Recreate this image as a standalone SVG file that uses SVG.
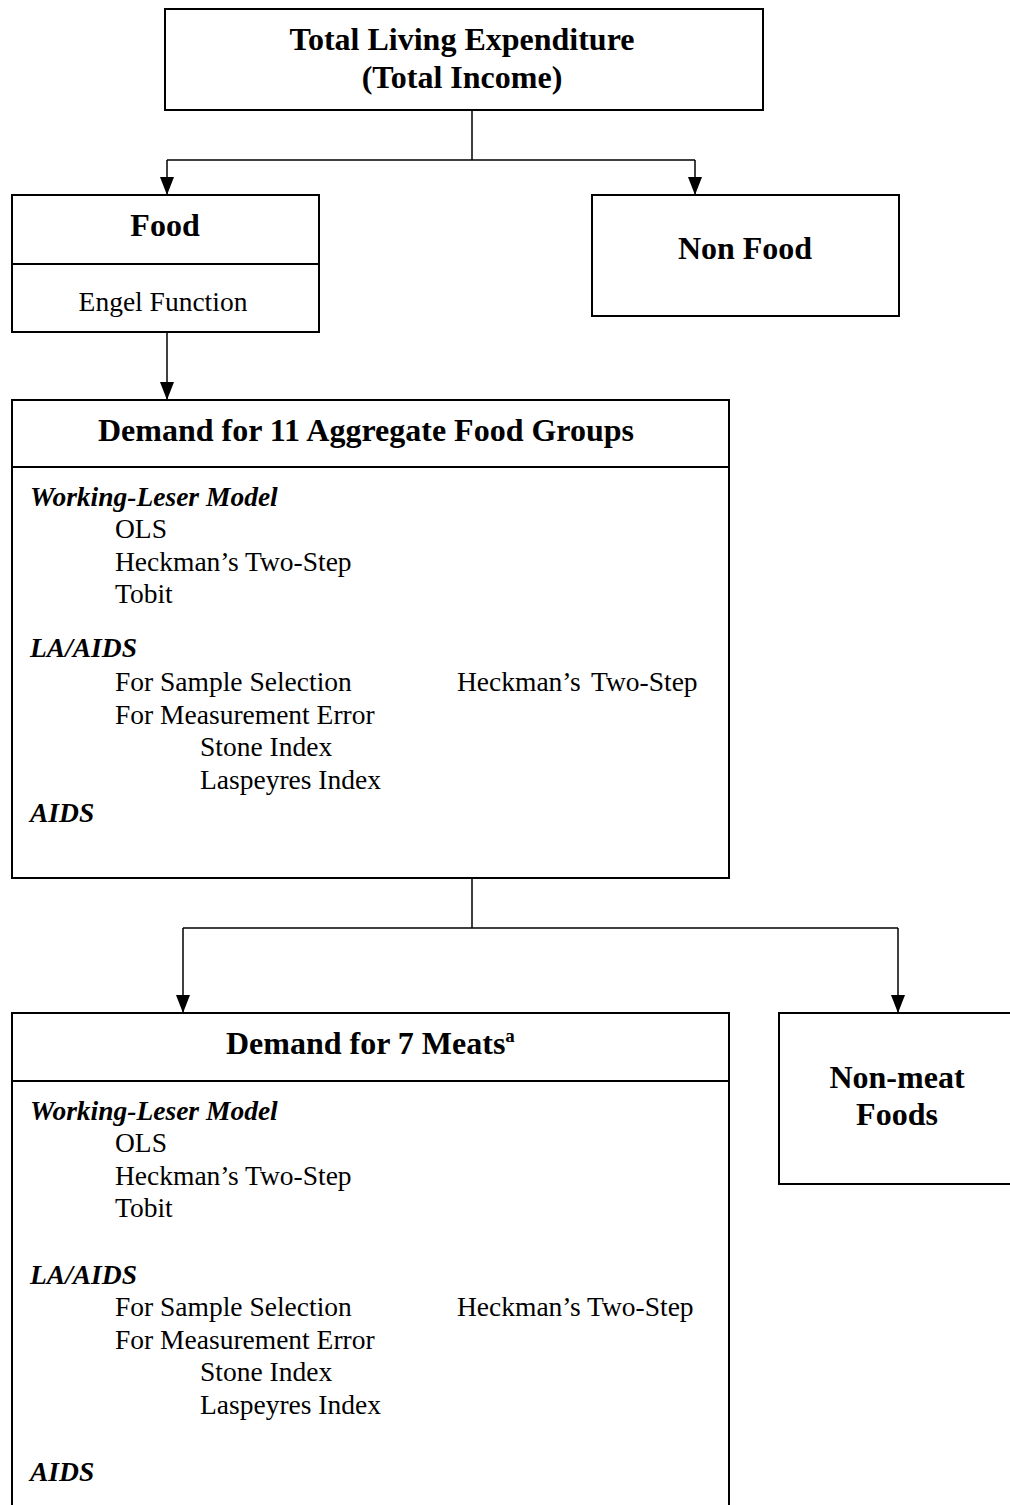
<svg xmlns="http://www.w3.org/2000/svg" width="1010" height="1505" viewBox="0 0 1010 1505">
<style>
.box{fill:#fff;stroke:#000;stroke-width:2}
.div{stroke:#000;stroke-width:2}
.con{fill:none;stroke:#000;stroke-width:1.5}
.t{font-family:"Liberation Serif","Times New Roman",serif;fill:#000}
.b{font-weight:bold;font-size:32px}
.r{font-size:27.5px}
.bi{font-weight:bold;font-style:italic;font-size:27.5px}
.c{text-anchor:middle}
</style>
<defs>
<marker id="ah" viewBox="0 0 18 14" refX="18" refY="7" markerWidth="18" markerHeight="14" markerUnits="userSpaceOnUse" orient="auto">
<path d="M0,0 L18,7 L0,14 Z" fill="#000"/>
</marker>
</defs>
<rect width="1010" height="1505" fill="#fff"/>
<g id="connectors">
<path class="con" d="M472,110 V160 M167,160 H695"/>
<path class="con" d="M167,160 V195" marker-end="url(#ah)"/>
<path class="con" d="M695,160 V195" marker-end="url(#ah)"/>
<path class="con" d="M167,332 V400" marker-end="url(#ah)"/>
<path class="con" d="M472,878 V928 M183,928 H898"/>
<path class="con" d="M183,928 V1013" marker-end="url(#ah)"/>
<path class="con" d="M898,928 V1013" marker-end="url(#ah)"/>
</g>
<g id="total">
<rect class="box" x="165" y="9" width="598" height="101"/>
<text class="t b c" x="462" y="50">Total Living Expenditure</text>
<text class="t b c" x="462" y="88">(Total Income)</text>
</g>
<g id="food">
<rect class="box" x="12" y="195" width="307" height="137"/>
<line class="div" x1="12" y1="264" x2="319" y2="264"/>
<text class="t b c" x="165" y="236">Food</text>
<text class="t r c" x="163" y="311">Engel Function</text>
</g>
<g id="nonfood">
<rect class="box" x="592" y="195" width="307" height="121"/>
<text class="t b c" x="745" y="259">Non Food</text>
</g>
<g id="aggregate">
<rect class="box" x="12" y="400" width="717" height="478"/>
<line class="div" x1="12" y1="467" x2="729" y2="467"/>
<text class="t b c" x="366" y="441">Demand for 11 Aggregate Food Groups</text>
<text class="t bi" x="30" y="506">Working-Leser Model</text>
<text class="t r" x="115" y="538">OLS</text>
<text class="t r" x="115" y="571">Heckman’s Two-Step</text>
<text class="t r" x="115" y="603">Tobit</text>
<text class="t bi" x="30" y="657">LA/AIDS</text>
<text class="t r" x="115" y="691">For Sample Selection</text>
<text class="t r" x="457" y="691" word-spacing="4">Heckman’s Two-Step</text>
<text class="t r" x="115" y="724">For Measurement Error</text>
<text class="t r" x="200" y="756">Stone Index</text>
<text class="t r" x="200" y="789">Laspeyres Index</text>
<text class="t bi" x="30" y="822">AIDS</text>
</g>
<g id="meats">
<rect class="box" x="12" y="1013" width="717" height="500"/>
<line class="div" x1="12" y1="1081" x2="729" y2="1081"/>
<text class="t b" x="226" y="1054">Demand for 7 Meats<tspan font-size="19" dy="-12">a</tspan></text>
<text class="t bi" x="30" y="1120">Working-Leser Model</text>
<text class="t r" x="115" y="1152">OLS</text>
<text class="t r" x="115" y="1185">Heckman’s Two-Step</text>
<text class="t r" x="115" y="1217">Tobit</text>
<text class="t bi" x="30" y="1284">LA/AIDS</text>
<text class="t r" x="115" y="1316">For Sample Selection</text>
<text class="t r" x="457" y="1316">Heckman’s Two-Step</text>
<text class="t r" x="115" y="1349">For Measurement Error</text>
<text class="t r" x="200" y="1381">Stone Index</text>
<text class="t r" x="200" y="1414">Laspeyres Index</text>
<text class="t bi" x="30" y="1481">AIDS</text>
</g>
<g id="nonmeat">
<rect class="box" x="779" y="1013" width="240" height="171"/>
<text class="t b c" x="897" y="1088">Non-meat</text>
<text class="t b c" x="897" y="1125">Foods</text>
</g>
</svg>
